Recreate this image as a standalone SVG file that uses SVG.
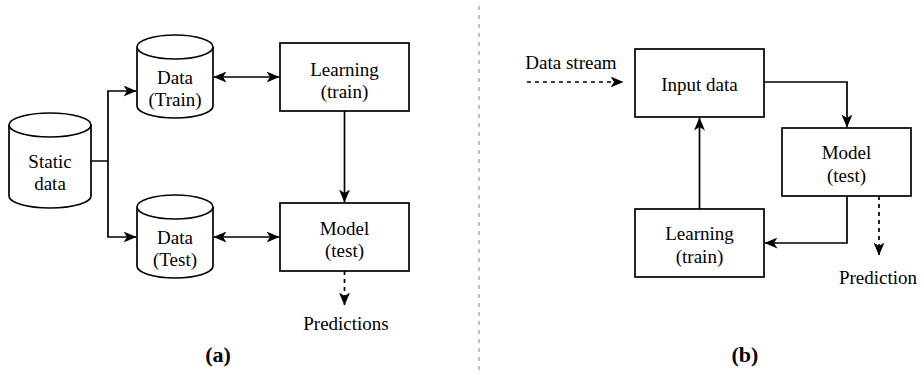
<svg xmlns="http://www.w3.org/2000/svg" width="922" height="374" viewBox="0 0 922 374">
  <style>
    .shape { fill: #ffffff; stroke: #000000; stroke-width: 1.7; }
    .edge { fill: none; stroke: #000000; stroke-width: 1.7; }
    .dash { stroke-dasharray: 4 4; }
    text { font-family: 'Liberation Serif', 'Times New Roman', 'DejaVu Serif', serif; fill: #000000; text-anchor: middle; }
    .label { font-size: 19px; }
    .caption { font-size: 22px; font-weight: bold; }
  </style>
  <defs>
    <marker id="arrow" viewBox="0 0 13 11" markerWidth="13" markerHeight="11" refX="12.5" refY="5.5" markerUnits="userSpaceOnUse" orient="auto-start-reverse">
      <path d="M0,0 L13,5.5 L0,11 L3.5,5.5 z" fill="#000000"/>
    </marker>
  </defs>

  <rect width="922" height="374" fill="#ffffff"/>

  <!-- panel divider -->
  <line x1="479" y1="6" x2="479" y2="374" stroke="#a0a0a0" stroke-width="1.3" stroke-dasharray="4 5"/>

  <!-- panel (a) -->
  <g id="static-data">
    <path class="shape" d="M9,125 A41,12 0 0 1 91,125 V196 A41,12 0 0 1 9,196 Z"/>
    <path class="edge" d="M9,125 A41,12 0 0 0 91,125"/>
    <text class="label" x="50" y="167.5">Static</text>
    <text class="label" x="50" y="189.5">data</text>
  </g>
  <g id="data-train">
    <path class="shape" d="M137,47 A38,12 0 0 1 213,47 V106 A38,12 0 0 1 137,106 Z"/>
    <path class="edge" d="M137,47 A38,12 0 0 0 213,47"/>
    <text class="label" x="175" y="83.5">Data</text>
    <text class="label" x="175" y="106">(Train)</text>
  </g>
  <g id="data-test">
    <path class="shape" d="M137,207 A38,12 0 0 1 213,207 V266 A38,12 0 0 1 137,266 Z"/>
    <path class="edge" d="M137,207 A38,12 0 0 0 213,207"/>
    <text class="label" x="175" y="243.5">Data</text>
    <text class="label" x="175" y="266">(Test)</text>
  </g>
  <g id="learning-a">
    <rect class="shape" x="280" y="43" width="129" height="68"/>
    <text class="label" x="344.5" y="75.5">Learning</text>
    <text class="label" x="344.5" y="98">(train)</text>
  </g>
  <g id="model-a">
    <rect class="shape" x="280" y="203" width="129" height="68"/>
    <text class="label" x="344.5" y="234.5">Model</text>
    <text class="label" x="344.5" y="257">(test)</text>
  </g>
  <g id="predictions-a">
    <text class="label" x="346" y="329.5">Predictions</text>
  </g>
  <text class="caption" x="218" y="362">(a)</text>

  <!-- panel (b) -->
  <g id="data-stream">
    <text class="label" x="571" y="68.5">Data stream</text>
  </g>
  <g id="input-data">
    <rect class="shape" x="635" y="49" width="129" height="68"/>
    <text class="label" x="699.5" y="91">Input data</text>
  </g>
  <g id="model-b">
    <rect class="shape" x="782" y="128" width="129" height="68"/>
    <text class="label" x="846.5" y="159">Model</text>
    <text class="label" x="846.5" y="182">(test)</text>
  </g>
  <g id="learning-b">
    <rect class="shape" x="635" y="209" width="129" height="68"/>
    <text class="label" x="699.5" y="240">Learning</text>
    <text class="label" x="699.5" y="263">(train)</text>
  </g>
  <g id="prediction-b">
    <text class="label" x="878" y="284">Prediction</text>
  </g>
  <text class="caption" x="745" y="362">(b)</text>

  <!-- connectors -->
  <g id="connectors">
    <path class="edge" d="M91,161 H108 V91 H136" marker-end="url(#arrow)"/>
    <path class="edge" d="M108,161 V237 H136" marker-end="url(#arrow)"/>
    <path class="edge" d="M214,77 H279" marker-start="url(#arrow)" marker-end="url(#arrow)"/>
    <path class="edge" d="M214,237 H279" marker-start="url(#arrow)" marker-end="url(#arrow)"/>
    <path class="edge" d="M344.5,111 V202" marker-end="url(#arrow)"/>
    <path class="edge dash" d="M344.5,271 V305" marker-end="url(#arrow)"/>

    <path class="edge dash" d="M527,82 H623" marker-end="url(#arrow)"/>
    <path class="edge" d="M764,82 H847 V127" marker-end="url(#arrow)"/>
    <path class="edge" d="M847,196 V243 H765" marker-end="url(#arrow)"/>
    <path class="edge" d="M699.5,209 V118" marker-end="url(#arrow)"/>
    <path class="edge dash" d="M879,196 V255" marker-end="url(#arrow)"/>
  </g>
</svg>
